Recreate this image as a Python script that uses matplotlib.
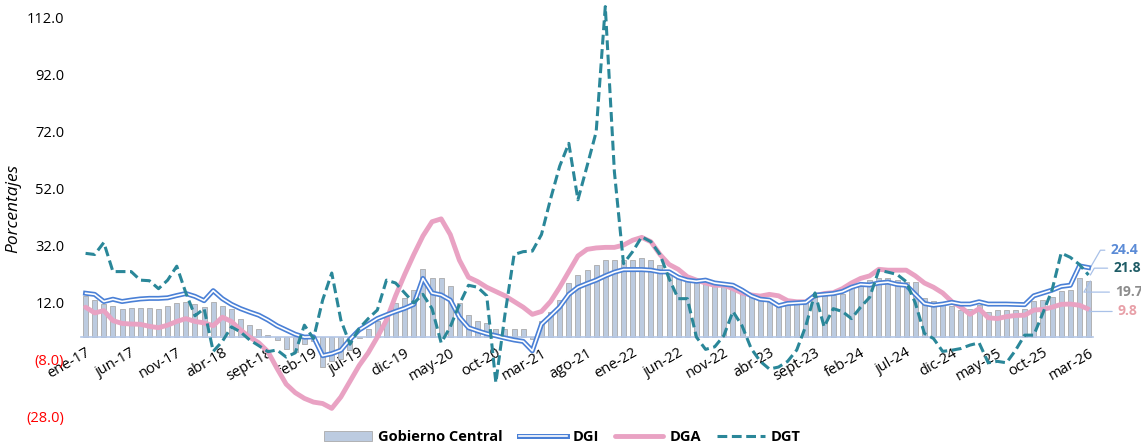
import numpy as np
import matplotlib
matplotlib.use('Agg')
import matplotlib.pyplot as plt
import matplotlib.patheffects as pe

plt.rcParams['font.family'] = ['Open Sans', 'DejaVu Sans']

meses = ['ene', 'feb', 'mar', 'abr', 'may', 'jun', 'jul', 'ago', 'sept', 'oct', 'nov', 'dic']
anios = ['17', '18', '19', '20', '21', '22', '23', '24', '25', '26']
fechas = [m + '-' + a for a in anios for m in meses][:111]

gobierno_central = [
    14.4, 13.0, 11.5, 10.9, 9.8, 10.2, 10.3, 10.3, 9.8, 10.9,
    12.0, 12.4, 11.8, 10.4, 12.3, 10.9, 9.7, 6.5, 4.4, 2.8,
    0.9, -1.1, -4.3, -5.1, -2.5, -1.5, -10.5, -8.5, -7.5, -4.6,
    -0.4, 2.8, 5.5, 7.1, 12.0, 13.8, 16.5, 24.0, 20.9, 20.9,
    18.1, 12.0, 7.6, 5.7, 4.8, 2.7, 2.7, 2.7, 3.0, -0.5,
    5.7, 8.9, 13.0, 19.1, 21.8, 23.7, 25.3, 27.0, 27.0, 27.0,
    27.0, 27.6, 27.0, 25.3, 22.9, 20.6, 20.0, 19.6, 19.4, 18.8,
    18.2, 17.7, 16.5, 15.1, 13.0, 12.4, 10.4, 11.6, 12.0, 12.4,
    15.3, 14.7, 14.7, 15.3, 17.1, 18.8, 20.0, 20.9, 20.9, 20.0,
    19.4, 19.4, 13.9, 12.6, 12.4, 10.9, 9.5, 9.7, 11.2, 8.9,
    9.5, 9.5, 9.5, 9.7, 12.6, 13.2, 14.2, 16.1, 16.5, 20.9,
    19.7]

dgi = [
    15.4, 15.0, 12.5, 13.3, 12.5, 13.0, 13.4, 13.6, 13.6, 13.8,
    14.6, 15.3, 14.3, 12.8, 16.3, 13.5, 11.5, 10.0, 8.8, 7.7,
    6.0, 4.0, 2.5, 1.0, 0.0, 0.1, -6.5, -5.8, -4.6, -0.8,
    2.5, 4.5, 6.5, 7.8, 9.0, 10.1, 11.5, 20.6, 15.5, 14.8,
    13.0, 7.0, 3.3, 2.2, 1.2, 0.5, -0.3, -1.0, -1.5, -4.8,
    4.5, 7.5, 10.6, 15.0, 17.5, 18.8, 20.0, 21.5, 22.8, 23.7,
    23.7, 23.7, 23.5, 22.9, 22.9, 21.0, 20.0, 19.6, 20.0, 19.0,
    18.6, 18.2, 16.5, 14.5, 13.3, 13.0, 11.0, 11.8, 12.0, 12.2,
    14.7, 15.0, 15.3, 16.0, 17.5, 18.5, 18.3, 19.0, 19.3, 18.5,
    18.2, 15.0, 11.8, 11.2, 11.6, 12.2, 11.6, 11.6, 12.4, 11.6,
    11.6, 11.6, 11.5, 11.4, 14.5, 15.5, 16.5, 17.8, 18.2, 25.0,
    24.4]

dga = [
    10.5, 8.5, 9.3, 5.8, 4.8, 4.6, 4.5, 3.8, 3.3, 4.2,
    5.5, 6.5, 5.5, 5.0, 4.0, 7.0, 5.5, 2.5, 0.0, -2.0,
    -5.1, -11.0, -16.5, -19.5, -21.5, -22.8, -23.3, -25.0, -21.0, -15.5,
    -10.0, -5.5, 0.0, 6.0, 14.5, 22.0, 29.0, 35.5, 40.5, 41.5,
    36.0, 27.0, 21.0, 19.5, 17.5, 16.0, 14.5, 12.5, 10.5, 8.0,
    9.0, 12.5, 17.5, 23.0, 28.5, 30.8, 31.3, 31.5, 31.5, 32.3,
    34.0, 35.0, 33.5, 29.0, 25.5, 23.8, 21.2, 20.0, 19.0, 18.2,
    18.2, 17.0, 15.5, 14.8, 14.4, 15.0, 14.5, 12.8, 12.4, 12.4,
    14.5, 15.3, 15.6, 17.0, 19.0, 20.6, 21.5, 23.8, 23.5, 23.5,
    23.5, 21.5, 19.0, 17.5, 15.5, 12.5, 10.5, 8.0, 10.0, 6.8,
    6.5, 7.2, 7.6, 7.7, 9.5, 9.7, 10.5, 11.5, 11.6, 11.2,
    9.8]

dgt = [
    29.4, 29.0, 33.2, 23.0, 23.0, 23.0, 20.0, 19.8, 17.0, 20.0,
    24.9, 15.5, 7.5, 10.0, -5.0, -1.5, 3.6, 1.8, -1.0, -3.0,
    -5.1, -4.5, -7.0, -5.5, 4.2, -0.5, 13.0, 22.5, 6.0, -2.5,
    3.0, 6.5, 9.5, 20.0, 19.0, 15.5, 12.0, 15.0, 10.0, -2.0,
    3.6, 11.5, 18.2, 17.5, 14.5, -16.0, 8.0, 29.0, 30.0, 30.2,
    36.0, 48.5, 60.0, 68.0, 48.2, 60.0, 72.0, 116.0, 58.0, 25.8,
    30.0, 35.2, 33.5, 29.0, 20.5, 13.5, 13.5, 0.0, -4.3, -3.4,
    0.5, 9.0, 4.0, -4.0, -8.5, -11.2, -10.5, -8.5, -4.5, 4.0,
    15.5, 3.6, 10.0, 9.0, 6.5, 10.5, 14.0, 23.5, 22.8, 22.0,
    19.5, 12.0, 1.3, -0.5, -5.0, -4.6, -4.0, -2.8, -2.0, -9.0,
    -8.5, -9.0, -4.6, 0.7, 0.7, 8.5, 16.5, 29.5, 28.0, 25.5,
    21.8]

c_barra = '#bccbe0'
c_dgi = '#4a80d6'
c_dga = '#e9a2c3'
c_dgt = '#2a8799'

x = np.arange(len(fechas))

fig = plt.figure(figsize=(11.41, 4.44), dpi=100)
ax = fig.add_axes([0.071, 0.061, 0.887, 0.937])

# eje x en el cero (antes de poner las etiquetas, porque reinicia los ticks)
ax.spines['bottom'].set_position(('data', 0))
ax.spines['bottom'].set_color('#b4c7e7')
ax.spines['bottom'].set_linewidth(1.2)
for s in ['top', 'right', 'left']:
    ax.spines[s].set_visible(False)

h_bar = ax.bar(x, gobierno_central, width=0.55, color=c_barra, edgecolor='#aaaaaa',
               linewidth=0.6, label='Gobierno Central', zorder=2)
h_dgi, = ax.plot(x, dgi, color='white', lw=1.2, label='DGI', zorder=4,
                 path_effects=[pe.Stroke(linewidth=3.6, foreground=c_dgi), pe.Normal()])
h_dga, = ax.plot(x, dga, color=c_dga, lw=3.5, label='DGA', zorder=3,
                 solid_capstyle='round', solid_joinstyle='round')
h_dgt, = ax.plot(x, dgt, color=c_dgt, lw=2.2, ls=(0, (3.2, 1.5)), label='DGT', zorder=5)

ax.set_xlim(-0.5, len(fechas) - 0.5)
ax.set_ylim(-28, 118)

yt = np.arange(-28, 113, 20)
ax.set_yticks(yt)
ax.set_yticklabels(['(%.1f)' % abs(v) if v < 0 else '%.1f' % v for v in yt], fontsize=10.5)
for lab, v in zip(ax.get_yticklabels(), yt):
    if v < 0:
        lab.set_color('red')
ax.tick_params(axis='y', length=0, pad=12)

ax.set_xticks(x[::5])
ax.set_xticklabels(fechas[::5], rotation=30, ha='right', rotation_mode='anchor', fontsize=10.5)
ax.tick_params(axis='x', length=0, pad=6)

ax.set_ylabel('Porcentajes', fontsize=12.5, fontstyle='italic', labelpad=4)

# etiquetas del ultimo dato
ult = len(fechas) - 1
etiquetas = [
    (dgi[-1], 30.5, '#5b8bd6', 2.4),
    (dgt[-1], 24.2, '#1f5c66', 2.7),
    (gobierno_central[-1], 15.8, '#8c8c8c', 2.9),
    (dga[-1], 9.0, '#e8a0a8', 3.2),
]
for val, ytxt, col, dx in etiquetas:
    ax.annotate('%.1f' % val, xy=(ult + 0.2, val), xytext=(ult + dx, ytxt),
                textcoords='data', fontsize=10, fontweight='bold', color=col,
                va='center', ha='left', annotation_clip=False,
                arrowprops=dict(arrowstyle='-', color='#a9c1e8', lw=0.9,
                                shrinkA=2, shrinkB=0,
                                connectionstyle='angle,angleA=0,angleB=60,rad=0'))

fig.legend(handles=[h_bar, h_dgi, h_dga, h_dgt],
           labels=['Gobierno Central', 'DGI', 'DGA', 'DGT'],
           loc='lower center', bbox_to_anchor=(0.493, -0.03), ncol=4, frameon=False,
           prop={'weight': 'bold', 'size': 10.5}, handlelength=3.3,
           handletextpad=0.4, columnspacing=1.1)

fig.savefig('out.png', dpi=100)
